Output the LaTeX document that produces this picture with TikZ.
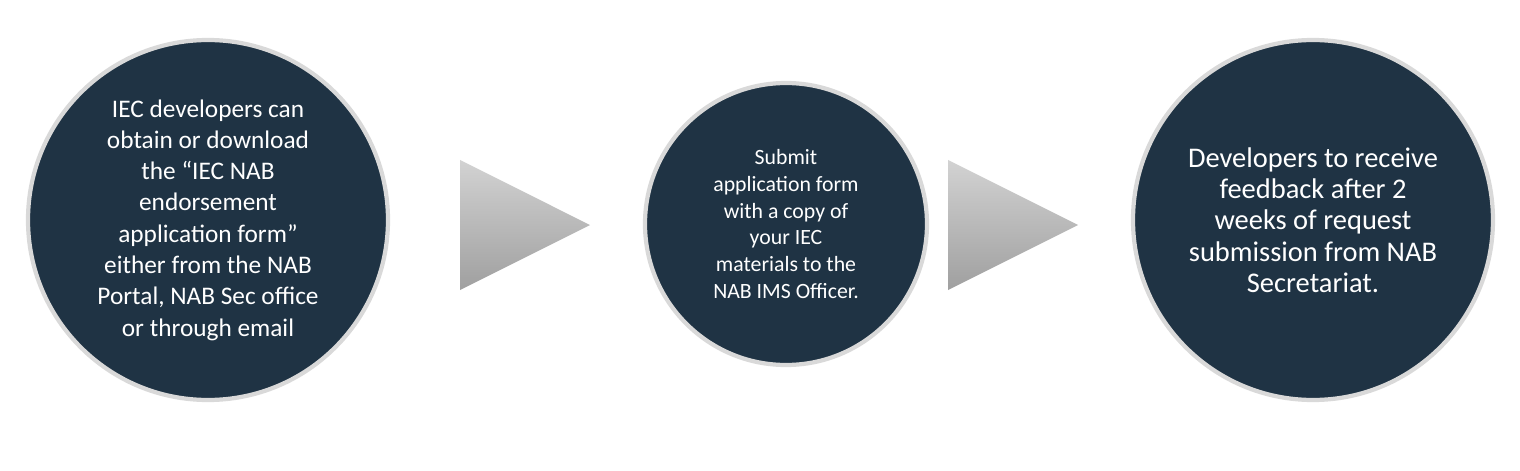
\documentclass[tikz,border=0pt]{standalone}
\usepackage{fontspec}
\setmainfont{Carlito}
\usetikzlibrary{positioning}
\definecolor{navy}{HTML}{1F3344}
\tikzset{
  stage/.style={circle,draw=gray!30,line width=1.2pt,fill=navy,text=white,align=center,inner sep=0pt},
  arrowhead/.style={top color=gray!35,bottom color=gray!75,shading angle=0}
}
\begin{document}
\begin{tikzpicture}
  \useasboundingbox (0,0) rectangle (15.2,4.7);
  %circles
  \node[stage,minimum size=3.6cm,font=\fontsize{7.2}{8.9}\selectfont] (obtain) at (2.08,2.5)
    {IEC developers can\\obtain or download\\the “IEC NAB\\endorsement\\application form”\\either from the NAB\\Portal, NAB Sec office\\or through email};
  \node[stage,minimum size=2.82cm,font=\fontsize{6.2}{7.6}\selectfont] (submit) at (7.86,2.46)
    {Submit\\application form\\with a copy of\\your IEC\\materials to the\\NAB IMS Officer.};
  \node[stage,minimum size=3.6cm,font=\fontsize{8.1}{8.9}\selectfont] (receive) at (13.13,2.5)
    {Developers to receive\\feedback after 2\\weeks of request\\submission from NAB\\Secretariat.};
  %arrows
  \shade[arrowhead] (4.6,3.1) -- (5.9,2.45) -- (4.6,1.8) -- cycle;
  \shade[arrowhead] (9.48,3.1) -- (10.78,2.45) -- (9.48,1.8) -- cycle;
\end{tikzpicture}
\end{document}
